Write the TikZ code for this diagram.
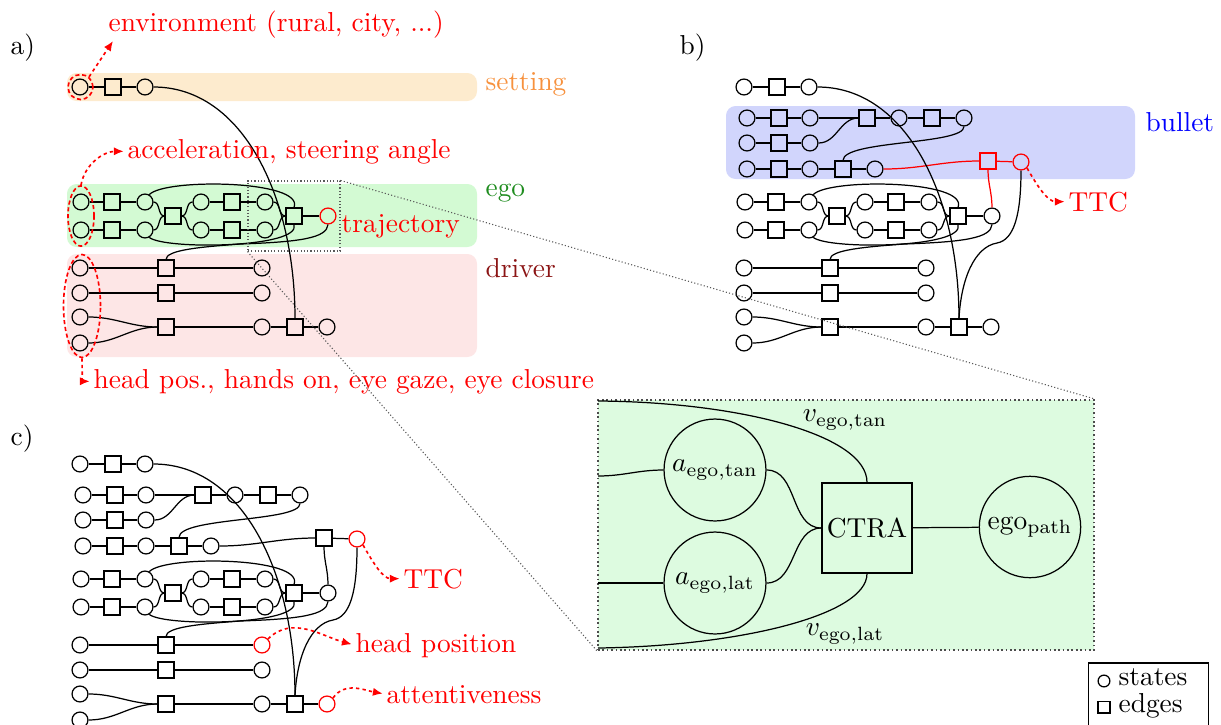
\documentclass[tikz,border=0pt]{standalone}
\usetikzlibrary{arrows.meta,shapes.geometric}
\definecolor{setbg}{HTML}{FDEBCE}
\definecolor{egobg}{HTML}{D3FAD3}
\definecolor{drvbg}{HTML}{FDE6E6}
\definecolor{bulbg}{HTML}{D1D5FC}
\definecolor{zoombg}{HTML}{DDFBE0}
\definecolor{setfg}{HTML}{F7913D}
\definecolor{egofg}{HTML}{1E8C1E}
\definecolor{drvfg}{HTML}{8B1414}

\tikzset{
  st/.style={circle, draw, minimum size=5.8pt, inner sep=0pt},
  ed/.style={rectangle, draw, minimum size=5.8pt, inner sep=0pt},
  lbl/.style={anchor=base west, inner sep=0pt},
  ring/.style={draw=red, dash pattern=on 1.5pt off 1pt, line width=0.6pt, inner sep=0pt},
  ann/.style={red, dash pattern=on 1.2pt off 1.2pt, line width=0.6pt,
              -{Latex[length=3.6pt,width=3pt]}, shorten >=1.2pt},
  zoomline/.style={gray!70!black, dash pattern=on 0.4pt off 0.8pt, line width=0.4pt},
  finalc/.style={}, hpc/.style={}, attc/.style={},
  tsqc/.style={}, ttcc/.style={}, redlink/.style={},
}

% setting row: state - edge - state
\newcommand\settingrow[1]{%
  \node[st] (#1s1) at (80,87) {};
  \node[ed] (#1s2) at (113,87) {};
  \node[st] (#1s3) at (145,87) {};
  \draw (#1s1) -- (#1s2) -- (#1s3);
}

% ego sub-graph
\newcommand\egogroup[1]{%
  \node[st] (#1e11) at (81,202) {};
  \node[ed] (#1e12) at (112,202) {};
  \node[st] (#1e13) at (145,202) {};
  \node[st] (#1e21) at (81,230) {};
  \node[ed] (#1e22) at (112,230) {};
  \node[st] (#1e23) at (145,230) {};
  \node[ed] (#1em) at (173,216) {};
  \node[st] (#1e14) at (201,202) {};
  \node[ed] (#1e15) at (232,202) {};
  \node[st] (#1e16) at (265,202) {};
  \node[st] (#1e24) at (201,230) {};
  \node[ed] (#1e25) at (232,230) {};
  \node[st] (#1e26) at (265,230) {};
  \node[ed] (#1es) at (294,216) {};
  \node[st,finalc] (#1e7) at (328,216) {};
  \draw (#1e11) -- (#1e12) -- (#1e13);
  \draw (#1e21) -- (#1e22) -- (#1e23);
  \draw (#1e13.east) to[out=0,in=180] (#1em.west);
  \draw (#1e23.east) to[out=0,in=180] (#1em.west);
  \draw (#1em.east) to[out=0,in=180] (#1e14.west);
  \draw (#1em.east) to[out=0,in=180] (#1e24.west);
  \draw (#1e14) -- (#1e15) -- (#1e16);
  \draw (#1e24) -- (#1e25) -- (#1e26);
  \draw (#1e16.east) to[out=0,in=180] (#1es.west);
  \draw (#1e26.east) to[out=0,in=180] (#1es.west);
  \draw (#1es) -- (#1e7);
  \draw (#1e13.60) .. controls (165,178) and (305,180) .. (#1es.north);
  \draw (#1e23.-60) .. controls (165,250) and (302,248) .. (#1es.south);
}

% driver sub-graph
\newcommand\drivergroup[1]{%
  \node[st] (#1d11) at (80,268) {};
  \node[ed] (#1d1) at (166,268) {};
  \node[st,hpc] (#1d13) at (262,268) {};
  \node[st] (#1d21) at (80,293) {};
  \node[ed] (#1d2) at (166,293) {};
  \node[st] (#1d23) at (262,293) {};
  \node[st] (#1d31) at (80,317) {};
  \node[st] (#1d41) at (80,343) {};
  \node[ed] (#1d3) at (166,327) {};
  \node[st] (#1d33) at (262,327) {};
  \node[ed] (#1dsq) at (295,327) {};
  \node[st,attc] (#1d35) at (327,327) {};
  \draw (#1d11) -- (#1d1) -- (#1d13);
  \draw (#1d21) -- (#1d2) -- (#1d23);
  \draw (#1d31.east) to[out=0,in=180] (#1d3.west);
  \draw (#1d41.east) to[out=0,in=180] (#1d3.west);
  \draw (#1d3) -- (#1d33) -- (#1dsq) -- (#1d35);
}

% links between setting, ego and driver
\newcommand\corelinks[1]{%
  \draw (#1s3.east) .. controls +(90,0) and +(0,-120) .. (#1dsq.north);
  \draw (#1e7.south) .. controls (327,238) and (300,242) .. (240,244)
        .. controls (200,247) and (166,250) .. (#1d1.north);
}

% bullet sub-graph with time to collision
\newcommand\bulletgroup[1]{%
  \node[st] (#1b11) at (83,118) {};
  \node[ed] (#1b12) at (115,118) {};
  \node[st] (#1b13) at (146,118) {};
  \node[ed] (#1b14) at (203,118) {};
  \node[st] (#1b15) at (235,118) {};
  \node[ed] (#1b16) at (268,118) {};
  \node[st] (#1b17) at (300,118) {};
  \node[st] (#1b21) at (83,143) {};
  \node[ed] (#1b22) at (115,143) {};
  \node[st] (#1b23) at (146,143) {};
  \node[st] (#1b31) at (83,169) {};
  \node[ed] (#1b32) at (115,169) {};
  \node[st] (#1b33) at (146,169) {};
  \node[ed] (#1b34) at (179,169) {};
  \node[st] (#1b35) at (211,169) {};
  \node[ed,tsqc] (#1tsq) at (324,161) {};
  \node[st,ttcc] (#1ttc) at (357,162) {};
  \draw (#1b11) -- (#1b12) -- (#1b13) -- (#1b14) -- (#1b15) -- (#1b16) -- (#1b17);
  \draw (#1b21) -- (#1b22) -- (#1b23);
  \draw (#1b23.east) to[out=0,in=180] (#1b14.west);
  \draw (#1b31) -- (#1b32) -- (#1b33) -- (#1b34) -- (#1b35);
  \draw (#1b17.south) .. controls (300,145) and (179,140) .. (#1b34.north);
  \draw[redlink] (#1b35.east) to[out=0,in=180] (#1tsq.west);
  \draw[redlink] (#1tsq) -- (#1ttc);
  \draw[redlink] (#1tsq.south) to[out=-90,in=90] (#1e7.north);
  \draw (#1ttc.south) .. controls (357,215) and (350,240) .. (333,243)
        .. controls (310,247) and (297,280) .. (#1dsq.north);
}

\begin{document}
\begin{tikzpicture}[x=0.365pt, y=-0.365pt, line width=0.45pt]
\useasboundingbox (0,0) rectangle (1221,724);

% background bands
\fill[setbg, rounded corners=3.5pt] (67,73) rectangle (477,101);
\fill[egobg, rounded corners=3.5pt] (67,184) rectangle (477,247);
\fill[drvbg, rounded corners=3.5pt] (67,254) rectangle (477,357);
\fill[bulbg, rounded corners=3.5pt] (726,106) rectangle (1135,179);

% panel a
\begin{scope}[finalc/.style={draw=red}]
  \settingrow{a}\egogroup{a}\drivergroup{a}\corelinks{a}
\end{scope}

% panel b
\begin{scope}[shift={(664,0)}, tsqc/.style={draw=red}, ttcc/.style={draw=red}, redlink/.style={red}]
  \settingrow{b}\egogroup{b}\drivergroup{b}\bulletgroup{b}\corelinks{b}
\end{scope}

% panel c
\begin{scope}[shift={(0,377)}, ttcc/.style={draw=red}, hpc/.style={draw=red}, attc/.style={draw=red}]
  \settingrow{c}\egogroup{c}\drivergroup{c}\bulletgroup{c}\corelinks{c}
\end{scope}

% labels
\node[lbl] (la) at (10,54) {a)};
\node[lbl] (lb) at (679,54) {b)};
\node[lbl] (lc) at (10,445) {c)};
\node[lbl, red] (envt) at (108,31) {environment (rural, city, ...)};
\node[lbl, setfg] (sett) at (485,90) {setting};
\node[lbl, red] (acct) at (127,158) {acceleration, steering angle};
\node[lbl, egofg] (egot) at (485,196) {ego};
\node[lbl, red] (trajt) at (341,232) {trajectory};
\node[lbl, drvfg] (drvt) at (485,277) {driver};
\node[lbl, red] (hpost) at (93,388) {head pos., hands on, eye gaze, eye closure};
\node[lbl, blue] (bult) at (1145,131) {bullet};
\node[lbl, red] (bttct) at (1068,211) {TTC};
\node[lbl, red] (cttct) at (403,588) {TTC};
\node[lbl, red] (chpt) at (355,652) {head position};
\node[lbl, red] (cattt) at (386,703) {attentiveness};

% selections and annotations
\node[ring, circle, minimum size=9.1pt] (setsel) at (80.5,87) {};
\node[ring, ellipse, minimum width=9.5pt, minimum height=22pt] (egosel) at (81,216) {};
\node[ring, ellipse, minimum width=13.5pt, minimum height=37.6pt] (drvsel) at (82,306) {};
\coordinate (envtip) at (113,41);
\draw[ann, shorten >=0pt] (setsel.50) -- (envtip);
\draw[ann] (egosel.north) to[out=80,in=180] (acct.west);
\draw[ann] (drvsel.south) to[out=-90,in=180] (hpost.west);
\draw[ann] (bttc.-45) to[out=-60,in=180] (bttct.west);
\draw[ann] (cttc.-45) to[out=-60,in=180] (cttct.west);
\draw[ann] (cd13.45) to[out=45,in=165] (chpt.west);
\draw[ann] (cd35.45) to[out=55,in=170] (cattt.west);

% magnified view of the CTRA motion model
\node[draw=gray!60!black, fill=zoombg, dash pattern=on 0.6pt off 1pt, line width=0.7pt,
      minimum width=181pt, minimum height=91.25pt, inner sep=0pt] (inset) at (846,525) {};
\node[draw, zoomline, minimum width=33.6pt, minimum height=25.55pt, inner sep=0pt] (zsrc) at (294,216) {};
\draw[zoomline] (zsrc.north east) -- (inset.north east);
\draw[zoomline] (zsrc.south west) -- (inset.south west);

\node[circle, draw, minimum size=37.2pt, inner sep=0pt] (atan) at (715,470) {$a_{\mathrm{ego,tan}}$};
\node[circle, draw, minimum size=37.2pt, inner sep=0pt] (alat) at (715,583) {$a_{\mathrm{ego,lat}}$};
\node[draw, minimum size=32.9pt, inner sep=0pt] (ctra) at (867,528) {CTRA};
\node[circle, draw, minimum size=37pt, inner sep=0pt] (egop) at (1030,527) {ego$_{\mathrm{path}}$};
\coordinate (inA) at (598,476);
\coordinate (inB) at (598,583);
\coordinate (inT) at (598,401);
\coordinate (inD) at (598,648);
\draw (inA) to[out=0,in=180] (atan.west);
\draw (inB) to[out=0,in=180] (alat.west);
\draw (atan.east) to[out=0,in=180] (ctra.west);
\draw (alat.east) to[out=0,in=180] (ctra.west);
\draw (ctra) -- (egop);
\draw (inT) .. controls (740,402) and (867,435) .. (ctra.north);
\draw (inD) .. controls (740,646) and (867,615) .. (ctra.south);
\node (vtan) at (845,420) {$v_{\mathrm{ego,tan}}$};
\node (vlat) at (845,634) {$v_{\mathrm{ego,lat}}$};

% legend
\node[draw, line width=0.5pt, minimum width=44pt, minimum height=24.5pt, inner sep=0pt] (legend) at (1148.5,696.5) {};
\node[circle, draw, minimum size=4.3pt, inner sep=0pt] (lgs) at (1104,681) {};
\node[draw, minimum size=4.3pt, inner sep=0pt] (lge) at (1104,707) {};
\node[lbl] (lgst) at (1118,685) {states};
\node[lbl] (lget) at (1118,712) {edges};
\end{tikzpicture}
\end{document}
